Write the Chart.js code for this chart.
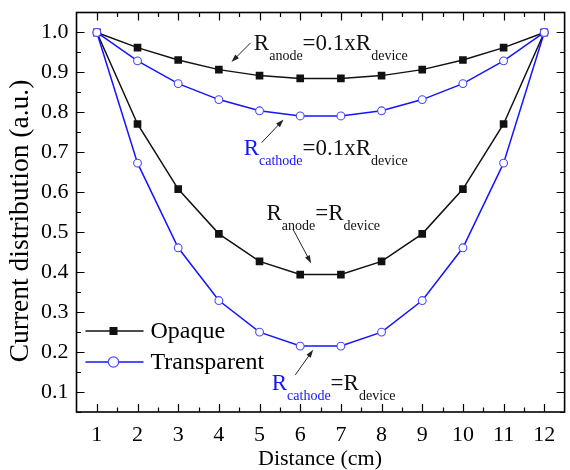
<!DOCTYPE html>
<html>
<head>
<meta charset="utf-8">
<script src="https://cdn.jsdelivr.net/npm/chart.js@4.4.1/dist/chart.umd.min.js"></script>
<style>
  body { margin: 0; background: #fff; }
  canvas { display: block; }
</style>
</head>
<body>
<canvas id="chart" width="570" height="470"></canvas>
<script>
// distance along the device (cm)
const distance = [1, 2, 3, 4, 5, 6, 7, 8, 9, 10, 11, 12];

// current distribution, opaque electrode
const opaqueAnode01 = [1.000, 0.962, 0.931, 0.907, 0.892, 0.885, 0.885, 0.892, 0.907, 0.931, 0.962, 1.000];
const opaqueAnodeEq = [1.000, 0.771, 0.608, 0.496, 0.427, 0.394, 0.394, 0.427, 0.496, 0.608, 0.771, 1.000];

// current distribution, transparent electrode
const transCathode01 = [1.000, 0.929, 0.872, 0.832, 0.804, 0.791, 0.791, 0.804, 0.832, 0.872, 0.929, 1.000];
const transCathodeEq = [1.000, 0.673, 0.461, 0.329, 0.250, 0.215, 0.215, 0.250, 0.329, 0.461, 0.673, 1.000];

const xTicks = [1, 2, 3, 4, 5, 6, 7, 8, 9, 10, 11, 12];
const yTicks = [0.1, 0.2, 0.3, 0.4, 0.5, 0.6, 0.7, 0.8, 0.9, 1.0];

const xTitle = 'Distance (cm)';
const yTitle = 'Current distribution (a.u.)';

const BLACK = '#111';
const BLUE = '#1414ff';
const SERIF = "'Liberation Serif', 'Times New Roman', serif";

function pts(ys) {
  return distance.map((x, i) => ({ x: x, y: ys[i] }));
}

function opaqueSet(ys) {
  return {
    label: 'Opaque', data: pts(ys), order: 1,
    borderColor: BLACK, borderWidth: 1.5,
    pointStyle: 'rect', pointRadius: 5.4,
    pointBackgroundColor: BLACK, pointBorderColor: BLACK, pointBorderWidth: 0
  };
}
function transSet(ys) {
  return {
    label: 'Transparent', data: pts(ys), order: 0,
    borderColor: BLUE, borderWidth: 1.5,
    pointStyle: 'circle', pointRadius: 3.9,
    pointBackgroundColor: '#fff', pointBorderColor: '#4a4aff', pointBorderWidth: 1.1
  };
}

// labels: [x, y] in data units for the text baseline, arrow start/end, parts with sub flag
const notes = [
  { at: [4.86, 0.957], from: [4.78, 0.974], to: [4.31, 0.926],
    parts: [['R', BLACK, 0], ['anode', BLACK, 1], ['=0.1xR', BLACK, 0], ['device', BLACK, 1]] },
  { at: [4.61, 0.694], from: [5.05, 0.724], to: [5.59, 0.782],
    parts: [['R', BLUE, 0], ['cathode', BLUE, 1], ['=0.1xR', BLACK, 0], ['device', BLACK, 1]] },
  { at: [5.17, 0.531], from: [5.83, 0.506], to: [6.27, 0.422],
    parts: [['R', BLACK, 0], ['anode', BLACK, 1], ['=R', BLACK, 0], ['device', BLACK, 1]] },
  { at: [5.30, 0.105], from: [5.88, 0.143], to: [6.32, 0.206],
    parts: [['R', BLUE, 0], ['cathode', BLUE, 1], ['=R', BLACK, 0], ['device', BLACK, 1]] }
];

function arrow(ctx, x0, y0, x1, y1) {
  const a = Math.atan2(y1 - y0, x1 - x0);
  ctx.strokeStyle = '#222';
  ctx.fillStyle = '#222';
  ctx.lineWidth = 1;
  ctx.beginPath();
  ctx.moveTo(x0, y0);
  ctx.lineTo(x1 - 5 * Math.cos(a), y1 - 5 * Math.sin(a));
  ctx.stroke();
  ctx.beginPath();
  ctx.moveTo(x1, y1);
  ctx.lineTo(x1 - 8 * Math.cos(a) + 2.6 * Math.sin(a), y1 - 8 * Math.sin(a) - 2.6 * Math.cos(a));
  ctx.lineTo(x1 - 8 * Math.cos(a) - 2.6 * Math.sin(a), y1 - 8 * Math.sin(a) + 2.6 * Math.cos(a));
  ctx.closePath();
  ctx.fill();
}

const framePlugin = {
  id: 'frame',
  afterDraw(chart) {
    const ctx = chart.ctx;
    const a = chart.chartArea;
    const xs = chart.scales.x, ys = chart.scales.y;
    ctx.save();

    // box and inward ticks on all four sides
    ctx.strokeStyle = '#000';
    ctx.lineWidth = 1.6;
    ctx.strokeRect(a.left, a.top, a.right - a.left, a.bottom - a.top);
    ctx.lineWidth = 1.2;
    ctx.beginPath();
    for (let v = 1; v <= 12; v += 0.5) {
      const len = Number.isInteger(v) ? 8 : 4.5;
      const p = Math.round(xs.getPixelForValue(v)) + 0.5;
      ctx.moveTo(p, a.bottom); ctx.lineTo(p, a.bottom - len);
      ctx.moveTo(p, a.top); ctx.lineTo(p, a.top + len);
    }
    for (let k = 1; k <= 20; k++) {
      const v = k * 0.05;
      const len = k % 2 === 0 ? 8 : 4.5;
      const p = Math.round(ys.getPixelForValue(v)) + 0.5;
      ctx.moveTo(a.left, p); ctx.lineTo(a.left + len, p);
      ctx.moveTo(a.right, p); ctx.lineTo(a.right - len, p);
    }
    ctx.stroke();

    // axis titles
    ctx.fillStyle = '#000';
    ctx.textAlign = 'center';
    ctx.textBaseline = 'alphabetic';
    ctx.font = '22px ' + SERIF;
    ctx.fillText(xTitle, 320, 465);
    ctx.save();
    ctx.translate(28, 221);
    ctx.rotate(-Math.PI / 2);
    ctx.font = '27.5px ' + SERIF;
    ctx.fillText(yTitle, 0, 0);
    ctx.restore();

    // legend inside the plot
    const lx = a.left + 9, mid = a.left + 37, tx = a.left + 74;
    const rows = [
      { y: 331, color: BLACK, text: 'Opaque', square: true },
      { y: 362, color: BLUE, text: 'Transparent', square: false }
    ];
    ctx.font = '24px ' + SERIF;
    ctx.textBaseline = 'middle';
    ctx.textAlign = 'left';
    rows.forEach(r => {
      ctx.strokeStyle = r.color;
      ctx.lineWidth = 1.5;
      ctx.beginPath();
      ctx.moveTo(lx, r.y); ctx.lineTo(lx + 58, r.y);
      ctx.stroke();
      if (r.square) {
        ctx.fillStyle = BLACK;
        ctx.fillRect(mid - 4, r.y - 4, 8, 8);
      } else {
        ctx.fillStyle = '#fff';
        ctx.strokeStyle = '#4a4aff';
        ctx.lineWidth = 1.2;
        ctx.beginPath();
        ctx.arc(mid, r.y, 5.2, 0, Math.PI * 2);
        ctx.fill(); ctx.stroke();
      }
      ctx.fillStyle = '#000';
      ctx.fillText(r.text, tx, r.y + 1);
    });

    // resistance labels with arrows
    ctx.textBaseline = 'alphabetic';
    notes.forEach(n => {
      let x = xs.getPixelForValue(n.at[0]);
      const y = ys.getPixelForValue(n.at[1]);
      n.parts.forEach(([s, c, sub]) => {
        ctx.font = (sub ? '14px ' : '23px ') + SERIF;
        ctx.fillStyle = c;
        ctx.fillText(s, x, sub ? y + 10 : y);
        x += ctx.measureText(s).width;
      });
      arrow(ctx, xs.getPixelForValue(n.from[0]), ys.getPixelForValue(n.from[1]),
                 xs.getPixelForValue(n.to[0]), ys.getPixelForValue(n.to[1]));
    });
    ctx.restore();
  }
};

new Chart(document.getElementById('chart'), {
  type: 'line',
  data: {
    datasets: [
      opaqueSet(opaqueAnode01),
      opaqueSet(opaqueAnodeEq),
      transSet(transCathode01),
      transSet(transCathodeEq)
    ]
  },
  options: {
    responsive: false,
    animation: false,
    layout: { padding: { top: 12.5, right: 1, left: 0, bottom: 0 } },
    plugins: { legend: { display: false }, tooltip: { enabled: false } },
    scales: {
      x: {
        type: 'linear', min: 0.5, max: 12.5,
        afterBuildTicks: s => { s.ticks = xTicks.map(v => ({ value: v })); },
        afterFit: s => { s.height = 58; s.paddingLeft = 0; s.paddingRight = 0; },
        grid: { display: false, drawTicks: false },
        border: { display: false },
        ticks: { color: '#000', padding: 10, font: { family: SERIF, size: 22 }, maxRotation: 0 },
        title: { display: false }
      },
      y: {
        type: 'linear', min: 0.05, max: 1.05,
        afterBuildTicks: s => { s.ticks = yTicks.map(v => ({ value: v })); },
        afterFit: s => { s.width = 76.5; s.paddingTop = 0; s.paddingBottom = 0; },
        grid: { display: false, drawTicks: false },
        border: { display: false },
        ticks: { color: '#000', padding: 8, font: { family: SERIF, size: 22 },
                 callback: v => v.toFixed(1) },
        title: { display: false }
      }
    }
  },
  plugins: [framePlugin]
});
</script>
</body>
</html>
